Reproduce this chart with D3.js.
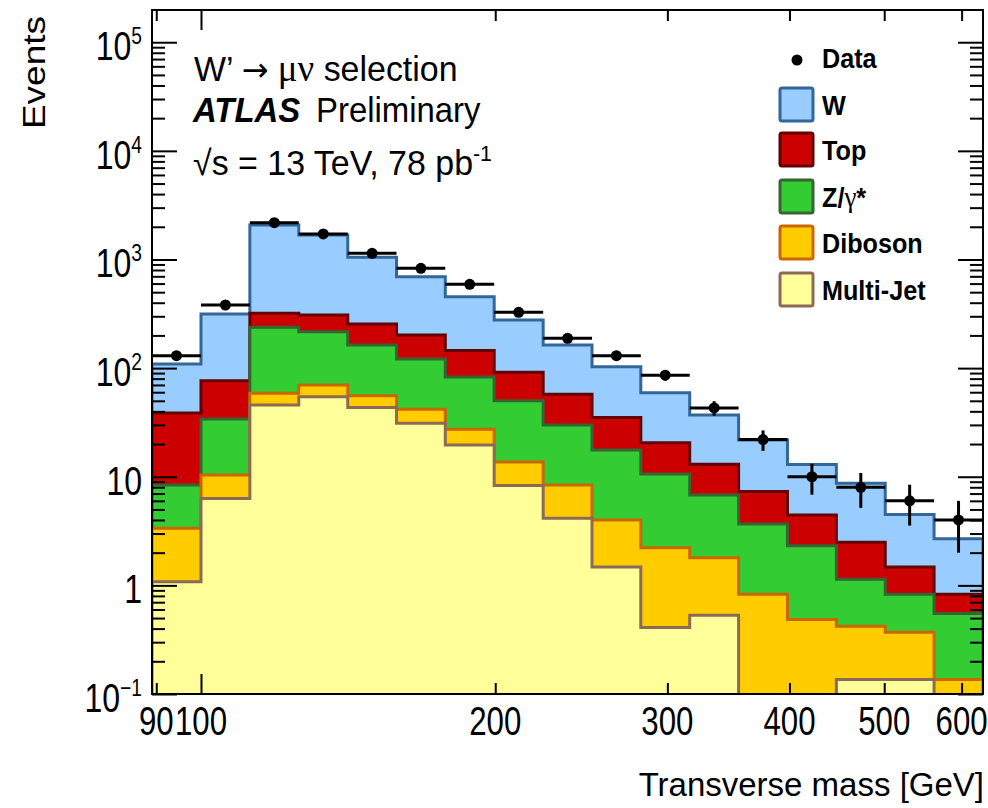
<!DOCTYPE html>
<html>
<head>
<meta charset="utf-8">
<script src="https://cdn.jsdelivr.net/npm/d3@7"></script>
<style>
  html, body { margin: 0; padding: 0; background: #fff; }
  svg { display: block; font-family: "Liberation Sans", Arial, Helvetica, sans-serif; }
</style>
</head>
<body>
<svg id="chart" width="988" height="808"></svg>
<script>
// ---------------- data ----------------
const binEdges = [89.1, 100, 112.2, 125.9, 141.3, 158.5, 177.8, 199.5, 223.9, 251.2, 281.8, 316.2, 354.8, 398.1, 446.7, 501.2, 562.3, 631.0];
const multiJet = [1.08, 6.3, 45.7, 54.6, 43.5, 31, 19.6, 8.3, 4.14, 1.48, 0.41, 0.53, 0, 0, 0.136, 0.136, 0];
const diboson  = [2.27, 4.1, 12.9, 15.3, 12.2, 10.8, 7.7, 5.4, 4.26, 2.51, 1.81, 1.27, 0.83, 0.486, 0.284, 0.234, 0.136];
const zGamma   = [5.05, 23.6, 179.4, 146.1, 107.3, 79.2, 55.7, 36.3, 21.5, 13.6, 8.38, 5.0, 2.84, 1.83, 0.72, 0.46, 0.414];
const topQ     = [30.2, 42.6, 82, 92, 92, 81, 62, 41.5, 27.5, 17.6, 10.0, 6.2, 3.63, 2.12, 1.35, 0.65, 0.28];
const wJets    = [70.4, 238.4, 1758, 1374, 792, 493, 309, 185.5, 105.6, 67.8, 38.7, 24, 14.5, 8.56, 6.21, 3.02, 1.86];
const dataCounts = [130, 381, 2183, 1718, 1140, 829, 591, 326, 188, 130, 86, 43, 22, 10, 8, 6, 4];

const seriesNames  = ["Multi-Jet", "Diboson", "Z/\u03b3*", "Top", "W"];
const seriesValues = [multiJet, diboson, zGamma, topQ, wJets];
const seriesFill   = ["#ffff99", "#ffcc00", "#33cc33", "#cc0000", "#99ccff"];
const seriesLine   = ["#8c6a56", "#cc6600", "#336633", "#660000", "#336699"];

const xTickValues = [90, 100, 200, 300, 400, 500, 600];
const xTickLabels = ["90", "100", "200", "300", "400", "500", "600"];
const xMajorTicks = [100];
const yTickValues = [0.1, 1, 10, 100, 1000, 10000, 100000];
const yTickBase   = ["10", "1", "10", "10", "10", "10", "10"];
const yTickExp    = ["\u22121", "", "", "2", "3", "4", "5"];

// ---------------- layout ----------------
const svg = d3.select("#chart");
const L = 152, R = 983, T = 10, B = 694;
const x = d3.scaleLog().domain([binEdges[0], binEdges[binEdges.length - 1]]).range([L, R]);
const y = d3.scaleLog().domain([0.1, 1.98e5]).range([B, T]);
const yv = v => (v > 0 ? y(v) : B + 8);

svg.append("defs").append("clipPath").attr("id", "plotclip")
  .append("rect").attr("x", L).attr("y", T).attr("width", R - L).attr("height", B - T);

const plot = svg.append("g").attr("clip-path", "url(#plotclip)");

// cumulative stacks
const cum = [];
seriesValues.forEach((s, k) => {
  cum.push(s.map((v, i) => v + (k > 0 ? cum[k - 1][i] : 0)));
});

function stepLine(vals) {
  let p = `M${x(binEdges[0])},${B + 8}`;
  vals.forEach((v, i) => {
    const yy = yv(v);
    p += `L${x(binEdges[i])},${yy}L${x(binEdges[i + 1])},${yy}`;
  });
  p += `L${x(binEdges[binEdges.length - 1])},${B + 8}`;
  return p;
}

for (let k = cum.length - 1; k >= 0; k--) {
  const d = stepLine(cum[k]);
  plot.append("path").attr("d", d + "Z").attr("fill", seriesFill[k]).attr("stroke", "none");
  plot.append("path").attr("d", d).attr("fill", "none")
    .attr("stroke", seriesLine[k]).attr("stroke-width", 3).attr("stroke-linejoin", "miter");
}

// data points
const dg = plot.append("g");
dataCounts.forEach((n, i) => {
  const cx = Math.sqrt(binEdges[i] * binEdges[i + 1]);
  const err = Math.sqrt(n);
  dg.append("line").attr("x1", x(binEdges[i])).attr("x2", x(binEdges[i + 1]))
    .attr("y1", y(n)).attr("y2", y(n)).attr("stroke", "#000").attr("stroke-width", 3);
  dg.append("line").attr("x1", x(cx)).attr("x2", x(cx))
    .attr("y1", y(n + err)).attr("y2", yv(n - err)).attr("stroke", "#000").attr("stroke-width", 3);
  dg.append("circle").attr("cx", x(cx)).attr("cy", y(n)).attr("r", 5.5).attr("fill", "#000");
});

// ---------------- axes ----------------
const yMinor = [];
for (let e = -1; e <= 5; e++) for (let m = 2; m <= 9; m++) {
  const v = m * Math.pow(10, e);
  if (v < 1.98e5) yMinor.push(v);
}
const xMinor = xTickValues.filter(v => !xMajorTicks.includes(v));

function styleAxis(g) {
  g.select(".domain").remove();
  g.selectAll("line").attr("stroke", "#000").attr("stroke-width", 2);
}
svg.append("g").attr("transform", `translate(${L},0)`)
  .call(d3.axisLeft(y).tickValues(yTickValues).tickSizeInner(-25).tickSizeOuter(0).tickFormat("")).call(styleAxis);
svg.append("g").attr("transform", `translate(${L},0)`)
  .call(d3.axisLeft(y).tickValues(yMinor).tickSizeInner(-13).tickSizeOuter(0).tickFormat("")).call(styleAxis);
svg.append("g").attr("transform", `translate(${R},0)`)
  .call(d3.axisRight(y).tickValues(yTickValues).tickSizeInner(-25).tickSizeOuter(0).tickFormat("")).call(styleAxis);
svg.append("g").attr("transform", `translate(${R},0)`)
  .call(d3.axisRight(y).tickValues(yMinor).tickSizeInner(-13).tickSizeOuter(0).tickFormat("")).call(styleAxis);
svg.append("g").attr("transform", `translate(0,${B})`)
  .call(d3.axisBottom(x).tickValues(xMajorTicks).tickSizeInner(-20).tickSizeOuter(0).tickFormat("")).call(styleAxis);
svg.append("g").attr("transform", `translate(0,${B})`)
  .call(d3.axisBottom(x).tickValues(xMinor).tickSizeInner(-11).tickSizeOuter(0).tickFormat("")).call(styleAxis);
svg.append("g").attr("transform", `translate(0,${T})`)
  .call(d3.axisTop(x).tickValues(xMajorTicks).tickSizeInner(-20).tickSizeOuter(0).tickFormat("")).call(styleAxis);
svg.append("g").attr("transform", `translate(0,${T})`)
  .call(d3.axisTop(x).tickValues(xMinor).tickSizeInner(-11).tickSizeOuter(0).tickFormat("")).call(styleAxis);

svg.append("rect").attr("x", L).attr("y", T).attr("width", R - L).attr("height", B - T)
  .attr("fill", "none").attr("stroke", "#000").attr("stroke-width", 2);

// y tick labels
yTickValues.forEach((v, i) => {
  const t = svg.append("text")
    .attr("transform", `translate(142,${y(v) + 18}) scale(0.8,1)`)
    .attr("text-anchor", "end").attr("font-size", 40).attr("fill", "#000");
  t.append("tspan").text(yTickBase[i]);
  if (yTickExp[i]) t.append("tspan").attr("dy", -16).attr("font-size", 24).text(yTickExp[i]);
});

// x tick labels
xTickValues.forEach((v, i) => {
  svg.append("text")
    .attr("transform", `translate(${x(v)},735) scale(0.78,1)`)
    .attr("text-anchor", "middle").attr("font-size", 40).attr("fill", "#000")
    .text(xTickLabels[i]);
});

// axis titles
svg.append("text").attr("x", 984).attr("y", 796).attr("text-anchor", "end")
  .attr("font-size", 33).attr("fill", "#000").text("Transverse mass [GeV]");
svg.append("text").attr("transform", "translate(45,16) scale(0.85,1) rotate(-90)")
  .attr("text-anchor", "end").attr("font-size", 37).attr("fill", "#000").text("Events");

// ---------------- labels ----------------
const l1 = svg.append("text").attr("transform", "translate(194,81) scale(0.97,1)")
  .attr("font-size", 35).attr("fill", "#000");
l1.append("tspan").text("W\u2019 ");
l1.append("tspan").attr("font-family", "'DejaVu Sans', sans-serif").attr("font-size", 33).text("\u2192");
l1.append("tspan").attr("font-family", "'Liberation Serif', 'Times New Roman', serif").attr("font-size", 38).text(" \u03bc\u03bd");
l1.append("tspan").text(" selection");

svg.append("text").attr("transform", "translate(193,122) scale(0.94,1)")
  .attr("font-size", 35).attr("font-weight", "bold").attr("font-style", "italic").attr("fill", "#000").text("ATLAS");
svg.append("text").attr("transform", "translate(316,122) scale(0.94,1)")
  .attr("font-size", 35).attr("fill", "#000").text("Preliminary");

const l3 = svg.append("text").attr("transform", "translate(193,175) scale(0.97,1)")
  .attr("font-size", 35).attr("fill", "#000");
l3.append("tspan").text("\u221As = 13 TeV, 78 pb");
l3.append("tspan").attr("dy", -14).attr("font-size", 22).text("-1");

// ---------------- legend ----------------
const legendRows = [68, 115, 160, 207, 253, 300];
const lg = svg.append("g");
lg.append("circle").attr("cx", 797).attr("cy", legendRows[0] - 8).attr("r", 5.5).attr("fill", "#000");
lg.append("text").attr("transform", `translate(822,${legendRows[0]}) scale(0.9,1)`)
  .attr("font-size", 28).attr("font-weight", "bold").attr("fill", "#000").text("Data");
const legOrder = [4, 3, 2, 1, 0];
legOrder.forEach((k, j) => {
  const by = legendRows[j + 1];
  lg.append("rect").attr("x", 780).attr("y", by - 27).attr("width", 33).attr("height", 33)
    .attr("rx", 2).attr("fill", seriesFill[k]).attr("stroke", seriesLine[k]).attr("stroke-width", 3);
  const t = lg.append("text").attr("transform", `translate(822,${by}) scale(0.9,1)`)
    .attr("font-size", 28).attr("font-weight", "bold").attr("fill", "#000");
  if (k === 2) {
    t.append("tspan").text("Z/");
    t.append("tspan").attr("font-family", "'Liberation Serif', serif").attr("font-weight", "normal").attr("font-size", 30).text("\u03b3");
    t.append("tspan").text("*");
  } else {
    t.text(seriesNames[k]);
  }
});
</script>
</body>
</html>
